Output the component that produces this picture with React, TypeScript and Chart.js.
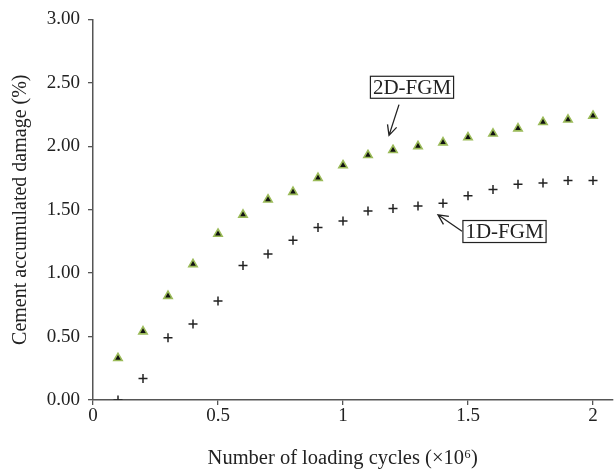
import React, { useEffect, useRef } from "react";
import { Chart, registerables } from "chart.js";

Chart.register(...registerables);

const cycles = [0.1, 0.2, 0.3, 0.4, 0.5, 0.6, 0.7, 0.8, 0.9, 1.0, 1.1, 1.2, 1.3, 1.4, 1.5, 1.6, 1.7, 1.8, 1.9, 2.0];
const damage2D = [0.33, 0.54, 0.82, 1.07, 1.31, 1.46, 1.58, 1.64, 1.75, 1.85, 1.93, 1.97, 2.0, 2.03, 2.07, 2.1, 2.14, 2.19, 2.21, 2.24];
const damage1D = [0.0, 0.17, 0.49, 0.6, 0.78, 1.06, 1.15, 1.26, 1.36, 1.41, 1.49, 1.51, 1.53, 1.55, 1.61, 1.66, 1.7, 1.71, 1.73, 1.73];
const xTicks = [0, 0.5, 1, 1.5, 2];
const yTicks = [0, 0.5, 1, 1.5, 2, 2.5, 3];

// annotation labels (data units)
const labelTexts = ["2D-FGM", "1D-FGM"];
const labelBoxX = [1.276, 1.646];
const labelBoxY = [2.465, 1.328];
const arrowFromX = [1.224, 1.476];
const arrowFromY = [2.328, 1.33];
const arrowToX = [1.184, 1.38];
const arrowToY = [2.086, 1.46];

const FONT = "'Liberation Serif', 'DejaVu Serif', serif";

const annotationPlugin = {
  id: "fgmLabels",
  afterDraw(chart: any) {
    const { ctx, scales } = chart;
    const xs = scales.x;
    const ys = scales.y;
    ctx.save();
    ctx.font = `21px ${FONT}`;
    ctx.textAlign = "center";
    ctx.textBaseline = "middle";
    ctx.strokeStyle = "#222";
    for (let i = 0; i < labelTexts.length; i++) {
      const cx = xs.getPixelForValue(labelBoxX[i]);
      const cy = ys.getPixelForValue(labelBoxY[i]);
      const w = ctx.measureText(labelTexts[i]).width + 5;
      const h = 22;
      ctx.fillStyle = "#fff";
      ctx.fillRect(cx - w / 2, cy - h / 2, w, h);
      ctx.lineWidth = 1.2;
      ctx.strokeRect(cx - w / 2, cy - h / 2, w, h);
      ctx.fillStyle = "#222";
      ctx.fillText(labelTexts[i], cx, cy + 1);
      const x1 = xs.getPixelForValue(arrowFromX[i]);
      const y1 = ys.getPixelForValue(arrowFromY[i]);
      const x2 = xs.getPixelForValue(arrowToX[i]);
      const y2 = ys.getPixelForValue(arrowToY[i]);
      ctx.lineWidth = 1.3;
      ctx.beginPath();
      ctx.moveTo(x1, y1);
      ctx.lineTo(x2, y2);
      const ang = Math.atan2(y2 - y1, x2 - x1);
      const hl = 11;
      ctx.moveTo(x2 - hl * Math.cos(ang - 0.45), y2 - hl * Math.sin(ang - 0.45));
      ctx.lineTo(x2, y2);
      ctx.lineTo(x2 - hl * Math.cos(ang + 0.45), y2 - hl * Math.sin(ang + 0.45));
      ctx.stroke();
    }
    ctx.restore();
  },
};

export default function App() {
  const ref = useRef<HTMLCanvasElement>(null);
  useEffect(() => {
    if (!ref.current) return;
    const chart = new Chart(ref.current, {
      type: "scatter",
      data: {
        datasets: [
          {
            label: "2D-FGM",
            data: cycles.map((x, i) => ({ x, y: damage2D[i] })),
            pointStyle: "triangle",
            pointRadius: 4.8,
            backgroundColor: "#111",
            borderColor: "#9bbb59",
            borderWidth: 1.6,
          },
          {
            label: "1D-FGM",
            data: cycles.map((x, i) => ({ x, y: damage1D[i] })),
            pointStyle: "cross",
            pointRadius: 4.5,
            backgroundColor: "#222",
            borderColor: "#222",
            borderWidth: 1.5,
          },
        ],
      },
      options: {
        animation: false,
        responsive: false,
        layout: { autoPadding: false, padding: { top: 17, right: 2, left: 0, bottom: 0 } },
        plugins: { legend: { display: false }, tooltip: { enabled: false } },
        scales: {
          x: {
            type: "linear",
            min: 0,
            max: 2.08,
            afterBuildTicks: (s: any) => {
              s.ticks = xTicks.map((v) => ({ value: v }));
            },
            afterFit: (s: any) => {
              s.height = 71;
              s.paddingRight = 0;
              s.paddingLeft = 0;
            },
            grid: { display: true, drawOnChartArea: false, drawTicks: true, tickLength: 5, color: "#555", lineWidth: 1.3 },
            border: { display: true, color: "#555", width: 1.5 },
            ticks: {
              color: "#222",
              font: { family: FONT, size: 19 },
              padding: 0,
              maxRotation: 0,
              callback: (v: any) => String(v),
            },
            title: {
              display: true,
              text: "Number of loading cycles (×10⁶)\u2003",
              color: "#222",
              font: { family: FONT, size: 20.5 },
              padding: { top: 5, bottom: 0 },
            },
          },
          y: {
            min: 0,
            max: 3,
            afterBuildTicks: (s: any) => {
              s.ticks = yTicks.map((v) => ({ value: v }));
            },
            afterFit: (s: any) => {
              s.width = 93;
            },
            grid: { display: true, drawOnChartArea: false, drawTicks: true, tickLength: 5, color: "#555", lineWidth: 1.3 },
            border: { display: true, color: "#555", width: 1.5 },
            ticks: {
              color: "#222",
              font: { family: FONT, size: 19 },
              padding: 8,
              callback: (v: any) => Number(v).toFixed(2),
            },
            title: {
              display: true,
              text: "Cement accumulated damage (%)",
              color: "#222",
              font: { family: FONT, size: 20 },
              padding: { top: 9, bottom: 4 },
            },
          },
        },
      },
      plugins: [annotationPlugin],
    });
    return () => chart.destroy();
  }, []);
  return (
    <div style={{ position: "fixed", left: 0, top: 0, width: 615, height: 471, background: "#fff" }}>
      <canvas ref={ref} width={615} height={471} />
    </div>
  );
}
